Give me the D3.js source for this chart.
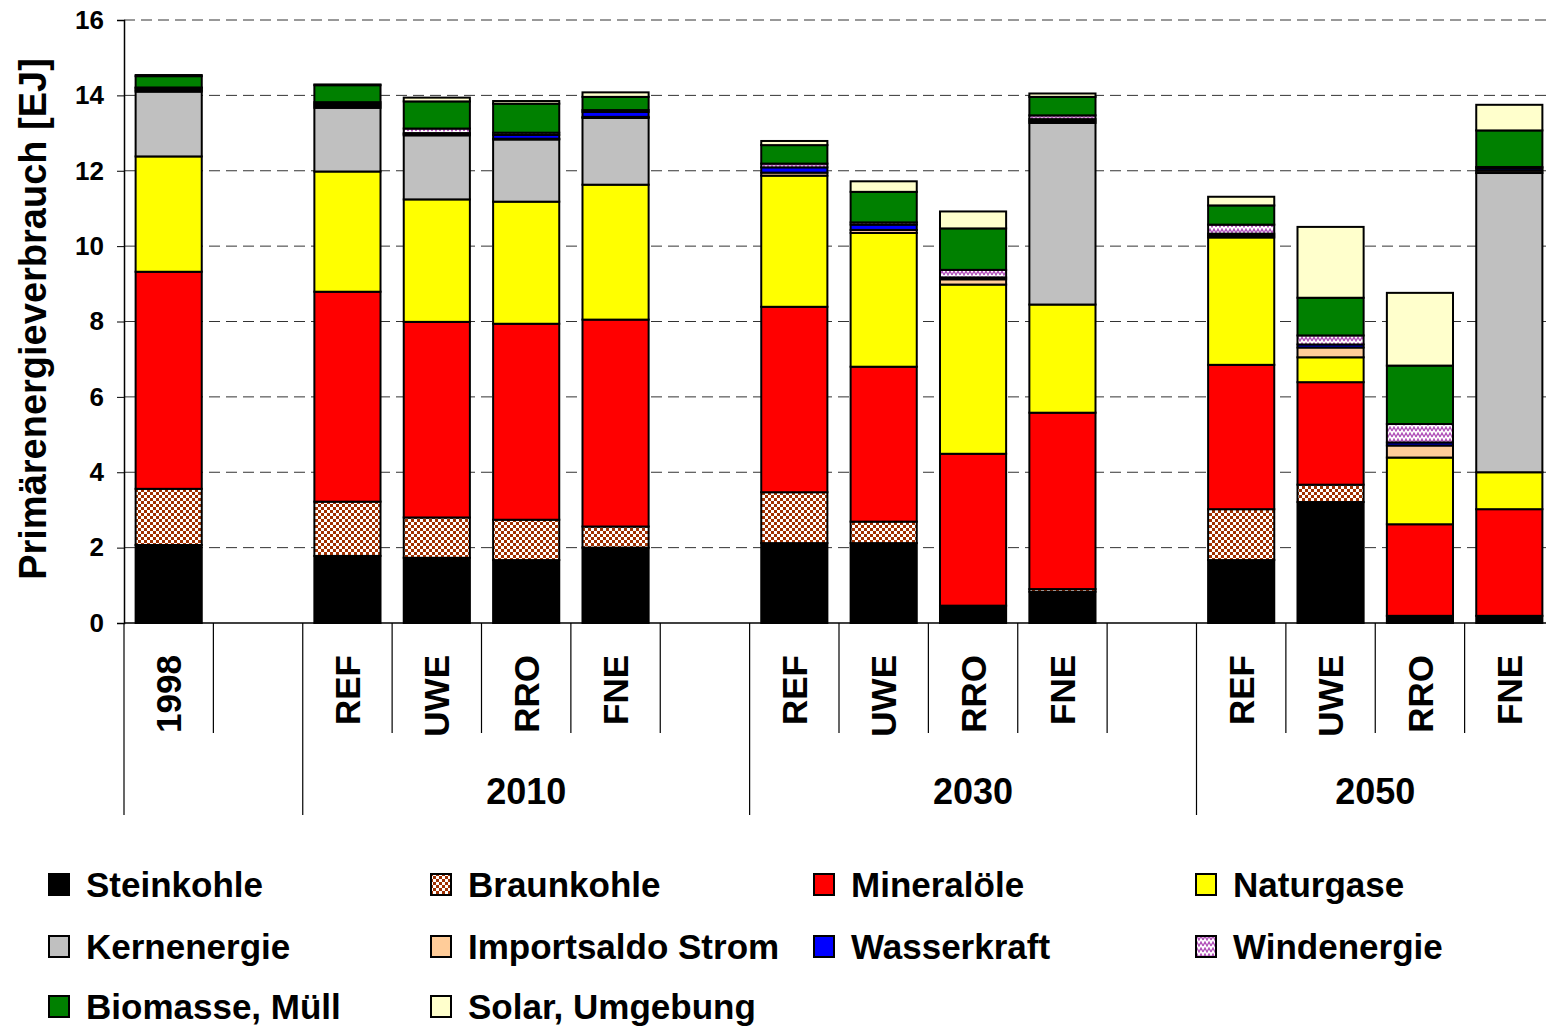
<!DOCTYPE html>
<html>
<head>
<meta charset="utf-8">
<script src="https://cdn.jsdelivr.net/npm/d3@7"></script>
<style>
  html, body { margin: 0; padding: 0; background: #fff; }
  svg { display: block; font-family: "Liberation Sans", Arial, sans-serif; font-weight: bold; }
</style>
</head>
<body>
<svg id="chart" width="1546" height="1030"></svg>
<script>
// slots along the x axis (empty label = spacer slot)
const slotLabels = ["1998", "", "REF", "UWE", "RRO", "FNE", "", "REF", "UWE", "RRO", "FNE", "", "REF", "UWE", "RRO", "FNE"];
const groupLabels = ["", "2010", "2030", "2050"];
const groupStarts = [0, 2, 7, 12, 16]; // slot boundaries of the groups
const yTicks = [0, 2, 4, 6, 8, 10, 12, 14, 16];

// EJ per source, one value per slot (bottom to top of stack)
const steinkohle  = [2.07, 0, 1.78, 1.73, 1.67, 2.00, 0, 2.12, 2.12, 0.46, 0.83, 0, 1.67, 3.21, 0.19, 0.19];
const braunkohle  = [1.49, 0, 1.44, 1.07, 1.07, 0.56, 0, 1.35, 0.57, 0.00, 0.07, 0, 1.35, 0.46, 0.00, 0.00];
const mineraloele = [5.76, 0, 5.57, 5.19, 5.20, 5.49, 0, 4.92, 4.11, 4.03, 4.68, 0, 3.83, 2.72, 2.43, 2.83];
const naturgase   = [3.06, 0, 3.19, 3.25, 3.24, 3.58, 0, 3.48, 3.55, 4.49, 2.87, 0, 3.38, 0.66, 1.77, 0.98];
const kernenergie = [1.72, 0, 1.69, 1.70, 1.65, 1.77, 0, 0.00, 0.00, 0.00, 4.82, 0, 0.00, 0.00, 0.00, 7.94];
const importStrom = [0.04, 0, 0.05, 0.03, 0.02, 0.03, 0, 0.08, 0.08, 0.14, 0.05, 0, 0.05, 0.26, 0.32, 0.06];
const wasserkraft = [0.05, 0, 0.05, 0.03, 0.10, 0.13, 0, 0.14, 0.14, 0.05, 0.05, 0, 0.05, 0.08, 0.08, 0.06];
const windenergie = [0.02, 0, 0.05, 0.12, 0.06, 0.05, 0, 0.10, 0.06, 0.20, 0.10, 0, 0.24, 0.24, 0.49, 0.04];
const biomasse    = [0.30, 0, 0.45, 0.72, 0.77, 0.35, 0, 0.49, 0.81, 1.10, 0.49, 0, 0.51, 1.00, 1.55, 0.97];
const solar       = [0.03, 0, 0.02, 0.10, 0.07, 0.12, 0, 0.11, 0.28, 0.45, 0.09, 0, 0.23, 1.88, 1.93, 0.68];

const series = [
  { name: "Steinkohle",        values: steinkohle,  fill: "#000000" },
  { name: "Braunkohle",        values: braunkohle,  fill: "url(#braun)" },
  { name: "Mineralöle",        values: mineraloele, fill: "#ff0000" },
  { name: "Naturgase",         values: naturgase,   fill: "#ffff00" },
  { name: "Kernenergie",       values: kernenergie, fill: "#c0c0c0" },
  { name: "Importsaldo Strom", values: importStrom, fill: "#ffcc99" },
  { name: "Wasserkraft",       values: wasserkraft, fill: "#0000ff" },
  { name: "Windenergie",       values: windenergie, fill: "url(#wind)" },
  { name: "Biomasse, Müll",    values: biomasse,    fill: "#008000" },
  { name: "Solar, Umgebung",   values: solar,       fill: "#ffffcc" }
];

const svg = d3.select("#chart");
const margin = { left: 124, top: 20, bottom: 623, right: 1554 };

// patterns
const defs = svg.append("defs");
const pb = defs.append("pattern").attr("id", "braun").attr("patternUnits", "userSpaceOnUse")
  .attr("width", 6).attr("height", 6);
pb.append("rect").attr("width", 6).attr("height", 6).attr("fill", "#fff");
pb.append("rect").attr("width", 3).attr("height", 3).attr("fill", "#a03000");
pb.append("rect").attr("x", 3).attr("y", 3).attr("width", 3).attr("height", 3).attr("fill", "#a03000");

const pw = defs.append("pattern").attr("id", "wind").attr("patternUnits", "userSpaceOnUse")
  .attr("width", 8).attr("height", 6);
pw.append("rect").attr("width", 8).attr("height", 6).attr("fill", "#fff");
pw.append("path").attr("d", "M0,5 L2,1 L4,5 L6,1 L8,5").attr("fill", "none")
  .attr("stroke", "#b050b8").attr("stroke-width", 1.3);

const x = d3.scaleBand()
  .domain(d3.range(slotLabels.length))
  .range([margin.left, margin.right])
  .paddingInner(0.26)
  .paddingOuter(0.13);

const y = d3.scaleLinear().domain([0, 16]).range([margin.bottom, margin.top]);

// grid
svg.append("g").selectAll("line")
  .data(yTicks.filter(d => d > 0))
  .join("line")
  .attr("x1", margin.left).attr("x2", 1546)
  .attr("y1", d => y(d)).attr("y2", d => y(d))
  .attr("stroke", "#333").attr("stroke-width", 1)
  .attr("stroke-dasharray", "11,6");

// stacked bars
const stackData = slotLabels.map((lab, i) => {
  const row = { i };
  series.forEach(s => row[s.name] = s.values[i]);
  return row;
});
const stack = d3.stack().keys(series.map(s => s.name))(stackData);

const barG = svg.append("g");
stack.forEach((layer, k) => {
  barG.append("g")
    .selectAll("rect")
    .data(layer.filter(d => d[1] - d[0] > 0))
    .join("rect")
    .attr("x", d => x(d.data.i))
    .attr("width", x.bandwidth())
    .attr("y", d => y(d[1]))
    .attr("height", d => y(d[0]) - y(d[1]))
    .attr("fill", series[k].fill)
    .attr("stroke", "#000")
    .attr("stroke-width", 2);
});

// y axis
const yAxis = d3.axisLeft(y).tickValues(yTicks).tickSize(7).tickPadding(13);
const yg = svg.append("g").attr("transform", `translate(${margin.left},0)`).call(yAxis);
yg.select(".domain").attr("stroke", "#000").attr("stroke-width", 1.5);
yg.selectAll(".tick line").attr("stroke", "#000");
yg.selectAll(".tick text").attr("font-size", 26).attr("font-weight", "bold")
  .attr("font-family", "'Liberation Sans', Arial, sans-serif").attr("fill", "#000");

svg.append("text")
  .attr("transform", "translate(33,319) rotate(-90)")
  .attr("text-anchor", "middle")
  .attr("dy", "0.35em")
  .attr("font-size", 38)
  .text("Primärenergieverbrauch [EJ]");

// x axis: base line, separators, labels
svg.append("line")
  .attr("x1", margin.left).attr("x2", 1546)
  .attr("y1", margin.bottom).attr("y2", margin.bottom)
  .attr("stroke", "#000").attr("stroke-width", 1.5);

const step = x.step();
const boundary = b => margin.left + b * step;
svg.append("g").selectAll("line")
  .data(d3.range(slotLabels.length + 1))
  .join("line")
  .attr("x1", b => boundary(b)).attr("x2", b => boundary(b))
  .attr("y1", margin.bottom)
  .attr("y2", b => groupStarts.includes(b) ? 815 : 733)
  .attr("stroke", "#000").attr("stroke-width", 1.2);

svg.append("g").selectAll("text")
  .data(slotLabels.map((l, i) => ({ l, i })).filter(d => d.l))
  .join("text")
  .attr("transform", d => `translate(${x(d.i) + x.bandwidth() / 2},655) rotate(-90)`)
  .attr("text-anchor", "end")
  .attr("dy", "0.36em")
  .attr("font-size", 35)
  .text(d => d.l);

svg.append("g").selectAll("text")
  .data(groupLabels.map((l, g) => ({ l, g })).filter(d => d.l))
  .join("text")
  .attr("x", d => (boundary(groupStarts[d.g]) + boundary(groupStarts[d.g + 1])) / 2)
  .attr("y", 791)
  .attr("dy", "0.35em")
  .attr("text-anchor", "middle")
  .attr("font-size", 36)
  .text(d => d.l);

// legend
const legCols = [48, 430, 813, 1195];
const legRows = [885, 947, 1007];
const leg = svg.append("g").selectAll("g")
  .data(series)
  .join("g")
  .attr("transform", (d, i) => `translate(${legCols[i % 4]},${legRows[Math.floor(i / 4)]})`);
leg.append("rect")
  .attr("x", 1).attr("y", -11).attr("width", 20).attr("height", 21)
  .attr("fill", d => d.fill).attr("stroke", "#000").attr("stroke-width", 2);
leg.append("text")
  .attr("x", 38).attr("y", 12)
  .attr("font-size", 35)
  .text(d => d.name);
</script>
</body>
</html>
